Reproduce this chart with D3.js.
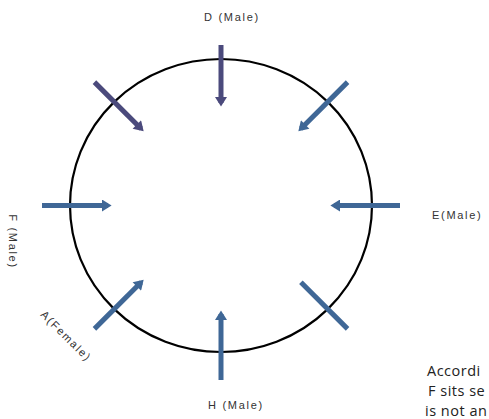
<!DOCTYPE html>
<html>
<head>
<meta charset="utf-8">
<script src="https://cdn.jsdelivr.net/npm/d3@7"></script>
<style>
  body { margin: 0; background: #fff; }
  svg { display: block; }
</style>
</head>
<body>
<div class="chart"></div>
<script>
// seats clockwise from the top
var seats = ["D", "NE", "E", "SE", "H", "A", "F", "NW"];
var seatLabels = ["D (Male)", "", "E(Male)", "", "H (Male)", "A(Female)", "F (Male)", ""];
var facing = ["in", "in", "in", "none", "in", "in", "in", "in"];
var noteLines = ["Accordi", "F sits se", "is not an"];

var width = 489, height = 419;

var svg = d3.select(".chart")
  .append("svg")
  .attr("width", width)
  .attr("height", height);

// ellipse coords -> screen
var x = d3.scaleLinear().domain([-1, 1]).range([70, 372]);
var y = d3.scaleLinear().domain([-1, 1]).range([352, 59]);
var angle = d3.scaleLinear().domain([0, seats.length]).range([90, 90 - 360]);

var purple = "#4b4a7c", blue = "#3f6796";
function colorOf(s) { return (s === "D" || s === "NW") ? purple : blue; }

// where each label sits, relative to its seat on the circle
var labelPos = {
  D: { dx: 11, dy: -42, rot: 0, anchor: "middle" },
  E: { dx: 60, dy: 10, rot: 0, anchor: "start" },
  H: { dx: 15, dy: 53, rot: 0, anchor: "middle" },
  A: { dx: -48, dy: 27, rot: 45, anchor: "middle" },
  F: { dx: -57, dy: 36, rot: 90, anchor: "middle" }
};

var defs = svg.append("defs");
[["head-blue", blue], ["head-purple", purple]].forEach(function(m) {
  defs.append("marker")
    .attr("id", m[0])
    .attr("viewBox", "0 -5 8 10")
    .attr("refX", 5)
    .attr("refY", 0)
    .attr("markerUnits", "userSpaceOnUse")
    .attr("markerWidth", 11)
    .attr("markerHeight", 12)
    .attr("orient", "auto")
    .append("path")
    .attr("d", "M0,-5L8,0L0,5Z")
    .style("fill", m[1]);
});

svg.append("ellipse")
  .attr("cx", x(0))
  .attr("cy", y(0))
  .attr("rx", x(1) - x(0))
  .attr("ry", y(0) - y(1))
  .style("fill", "none")
  .style("stroke", "#000")
  .style("stroke-width", 2.2);

var outer = 28, inner = 38;

var pts = seats.map(function(s, i) {
  var a = angle(i) * Math.PI / 180;
  return {
    seat: s, i: i,
    ux: Math.cos(a), uy: -Math.sin(a),
    px: x(Math.cos(a)), py: y(Math.sin(a))
  };
});

svg.selectAll("line.seat")
  .data(pts)
  .enter()
  .append("line")
  .attr("class", "seat")
  .attr("x1", function(d) { return d.px + d.ux * (d.seat === "D" ? 14 : outer); })
  .attr("y1", function(d) { return d.py + d.uy * (d.seat === "D" ? 14 : outer); })
  .attr("x2", function(d) { return d.px - d.ux * (d.seat === "D" ? 44 : inner); })
  .attr("y2", function(d) { return d.py - d.uy * (d.seat === "D" ? 44 : inner); })
  .style("stroke", function(d) { return colorOf(d.seat); })
  .style("stroke-width", 5)
  .attr("marker-end", function(d) {
    if (facing[d.i] !== "in") return null;
    return colorOf(d.seat) === purple ? "url(#head-purple)" : "url(#head-blue)";
  });

// seat labels
svg.selectAll("text.lab")
  .data(pts.filter(function(d) { return seatLabels[d.i]; }))
  .enter()
  .append("text")
  .attr("class", "lab")
  .attr("transform", function(d) {
    var p = labelPos[d.seat];
    return "translate(" + (d.px + p.dx) + "," + (d.py + p.dy) + ") rotate(" + p.rot + ")";
  })
  .attr("dy", "0.35em")
  .attr("text-anchor", function(d) { return labelPos[d.seat].anchor; })
  .style("font-family", "'Liberation Sans', Arial, sans-serif")
  .style("font-size", "11px")
  .style("letter-spacing", "1.7px")
  .style("fill", "#333")
  .text(function(d) { return seatLabels[d.i]; });

// note text at the lower right
svg.selectAll("text.note")
  .data(noteLines)
  .enter()
  .append("text")
  .attr("class", "note")
  .attr("x", function(d, i) { return i === 1 ? 428 : (i === 2 ? 425 : 427); })
  .attr("y", function(d, i) { return 376 + i * 20; })
  .style("font-family", "'Open Sans', sans-serif")
  .style("font-size", "14.5px")
  .style("letter-spacing", "0.5px")
  .style("fill", "#222")
  .text(function(d) { return d; });
</script>
</body>
</html>
